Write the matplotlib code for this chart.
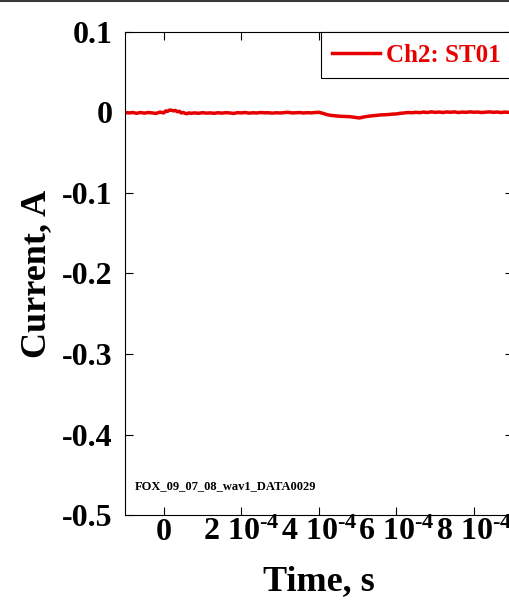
import matplotlib.pyplot as plt
from matplotlib.lines import Line2D
import numpy as np

plt.rcParams['font.family'] = 'Liberation Serif'
plt.rcParams['font.weight'] = 'bold'
plt.rcParams['axes.labelweight'] = 'bold'
plt.rcParams['mathtext.fontset'] = 'custom'
plt.rcParams['mathtext.rm'] = 'Liberation Serif:bold'
plt.rcParams['mathtext.default'] = 'rm'
plt.rcParams['axes.unicode_minus'] = False

# Ch2 current waveform, time in microseconds, current in amps
t_us = [-100, -90, -80, -70, -60, -50, -40, -30, -20, -10,
        0, 5, 10, 15, 20, 25, 30, 35, 40, 45,
        50, 55, 60, 65, 70, 80, 90, 100, 110, 120,
        130, 140, 150, 160, 170, 180, 190, 200, 210, 220,
        230, 240, 250, 260, 270, 280, 290, 300, 310, 320,
        330, 340, 350, 360, 370, 380, 390, 400, 410, 420,
        430, 440, 450, 460, 470, 480, 490, 500, 505, 510,
        520, 530, 540, 550, 560, 570, 580, 590, 600, 610,
        620, 630, 640, 650, 660, 670, 680, 690, 700, 710,
        720, 730, 740, 750, 760, 770, 780, 790, 800, 810,
        820, 830, 840, 850, 860, 870, 880, 890, 900]
current = [0.0, -0.0005, 0.0, -0.001, 0.0, -0.0008, 0.0, -0.0005, -0.0012, 0.0005,
           -0.0005, 0.002, 0.0015, 0.003, 0.0028, 0.002, 0.0025, 0.001, 0.0015, -0.0005,
           0.0, -0.001, -0.0015, -0.0005, -0.001, -0.0005, -0.001, -0.0002, -0.0008, -0.0005,
           -0.001, -0.0003, -0.0008, -0.0002, -0.0005, -0.0012, -0.0002, -0.0005, 0.0, -0.0008,
           -0.0003, -0.0006, 0.0, -0.0004, -0.0003, -0.0008, -0.0003, -0.0006, -0.0002, 0.0003,
           -0.0005, -0.0004, 0.0, -0.0006, -0.0002, -0.0005, 0.0, 0.0003, -0.001, -0.0025,
           -0.0035, -0.004, -0.0045, -0.0048, -0.005, -0.0052, -0.0058, -0.0065, -0.0068, -0.0062,
           -0.0052, -0.0045, -0.004, -0.0035, -0.003, -0.0028, -0.0025, -0.002, -0.0018, -0.001,
           -0.0006, 0.0, -0.0003, 0.0002, -0.0002, 0.0005, 0.0, 0.0008, 0.0002, 0.0006,
           0.0, 0.0007, 0.0003, 0.0008, 0.0, 0.0005, 0.0002, 0.0008, 0.0003, 0.0006,
           0.0, 0.0004, 0.0008, 0.0002, 0.0006, 0.0, 0.0005, 0.0002, 0.0]

yticks = [0.1, 0, -0.1, -0.2, -0.3, -0.4, -0.5]
ytick_labels = ['0.1', '0', '-0.1', '-0.2', '-0.3', '-0.4', '-0.5']
xticks = [0, 2e-4, 4e-4, 6e-4, 8e-4]
xtick_labels = ['0', r'2 10$^{\text{-}4}$', r'4 10$^{\text{-}4}$',
                r'6 10$^{\text{-}4}$', r'8 10$^{\text{-}4}$']

red = '#e60000'

fig = plt.figure(figsize=(5.1, 6.0), dpi=100)
ax = fig.add_axes([125 / 510, 85 / 600, 387.6 / 510, 483 / 600])

t = np.array(t_us) * 1e-6
ax.plot(t, current, color=red, lw=2.5, label='Ch2: ST01')

ax.set_xlim(-1e-4, 9e-4)
ax.set_ylim(-0.5, 0.1)
ax.set_xticks(xticks)
ax.set_xticklabels(xtick_labels)
ax.set_yticks(yticks)
ax.set_yticklabels(ytick_labels)
ax.tick_params(axis='both', direction='in', length=6, width=0.8,
               top=True, right=True, labelsize=23)
ax.tick_params(axis='y', pad=9)
ax.tick_params(axis='x', pad=2)
for sp in ax.spines.values():
    sp.set_linewidth(0.8)

ax.set_xlabel('Time, s', fontsize=26, fontweight='bold')
ax.set_ylabel('Current, A', fontsize=26, fontweight='bold')
ax.xaxis.set_label_coords(0.5, -0.103)
ax.yaxis.set_label_coords(-0.185, 0.5)

leg = ax.legend(loc='upper right', bbox_to_anchor=(1, 1), borderaxespad=0,
                fancybox=False, edgecolor='black', framealpha=1,
                handlelength=1.9, handletextpad=0.25, borderpad=0.47,
                prop={'size': 18, 'weight': 'bold'}, labelcolor=red)
leg.get_frame().set_linewidth(0.8)

ax.text(0.026, 0.054, 'FOX_09_07_08_wav1_DATA0029', transform=ax.transAxes,
        fontsize=9, fontweight='bold', va='baseline')

# dark strip along the top edge
fig.add_artist(Line2D([0, 1], [1 - 1 / 600] * 2, transform=fig.transFigure,
                      color='#3a3a3a', lw=1.5))

fig.savefig('out.png', dpi=100)
